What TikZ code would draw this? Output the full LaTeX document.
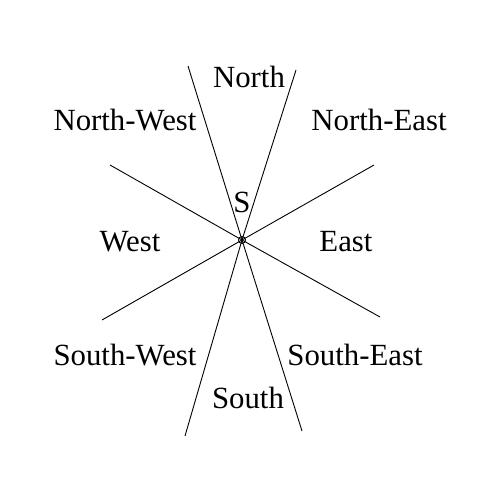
\documentclass[tikz,border=0pt]{standalone}
\usepackage{fontspec}
\setmainfont{Liberation Serif}
\usepackage{tikz}
\usetikzlibrary{positioning}
\tikzset{
  dir-label/.style={font=\fontsize{15.4}{18}\selectfont,inner sep=0pt,anchor=base},
  dir-line/.style={draw=black,line width=0.45pt},
  centre-mark/.style={draw=black,circle,line width=0.45pt,minimum size=3.5pt,inner sep=0pt},
}
\begin{document}
\begin{tikzpicture}[x=0.5pt,y=-0.5pt]
  \useasboundingbox (0,0) rectangle (503,486);
  \node[centre-mark] (C) at (242,240) {};
  % the four lines through the centre
  \foreach \name/\ax/\ay/\bx/\by in {a/188/66/302/431, b/296/70/185/436,
      c/110/165/380/317, d/374/165/102/320} {
    \coordinate (\name1) at (\ax,\ay);
    \coordinate (\name2) at (\bx,\by);
    \draw[dir-line] (\name1) -- (C.center) -- (\name2);
  }
  \foreach \name/\x/\y/\txt in {N/249/88/North, NW/125/131/North-West,
      NE/379/131/North-East, W/130/252/West, E/346/252/East,
      SW/125/365/South-West, SE/355/365/South-East, Sth/248/408/South,
      S/242/213/S} {
    \node[dir-label] (\name) at (\x,\y) {\txt};
  }
\end{tikzpicture}
\end{document}
